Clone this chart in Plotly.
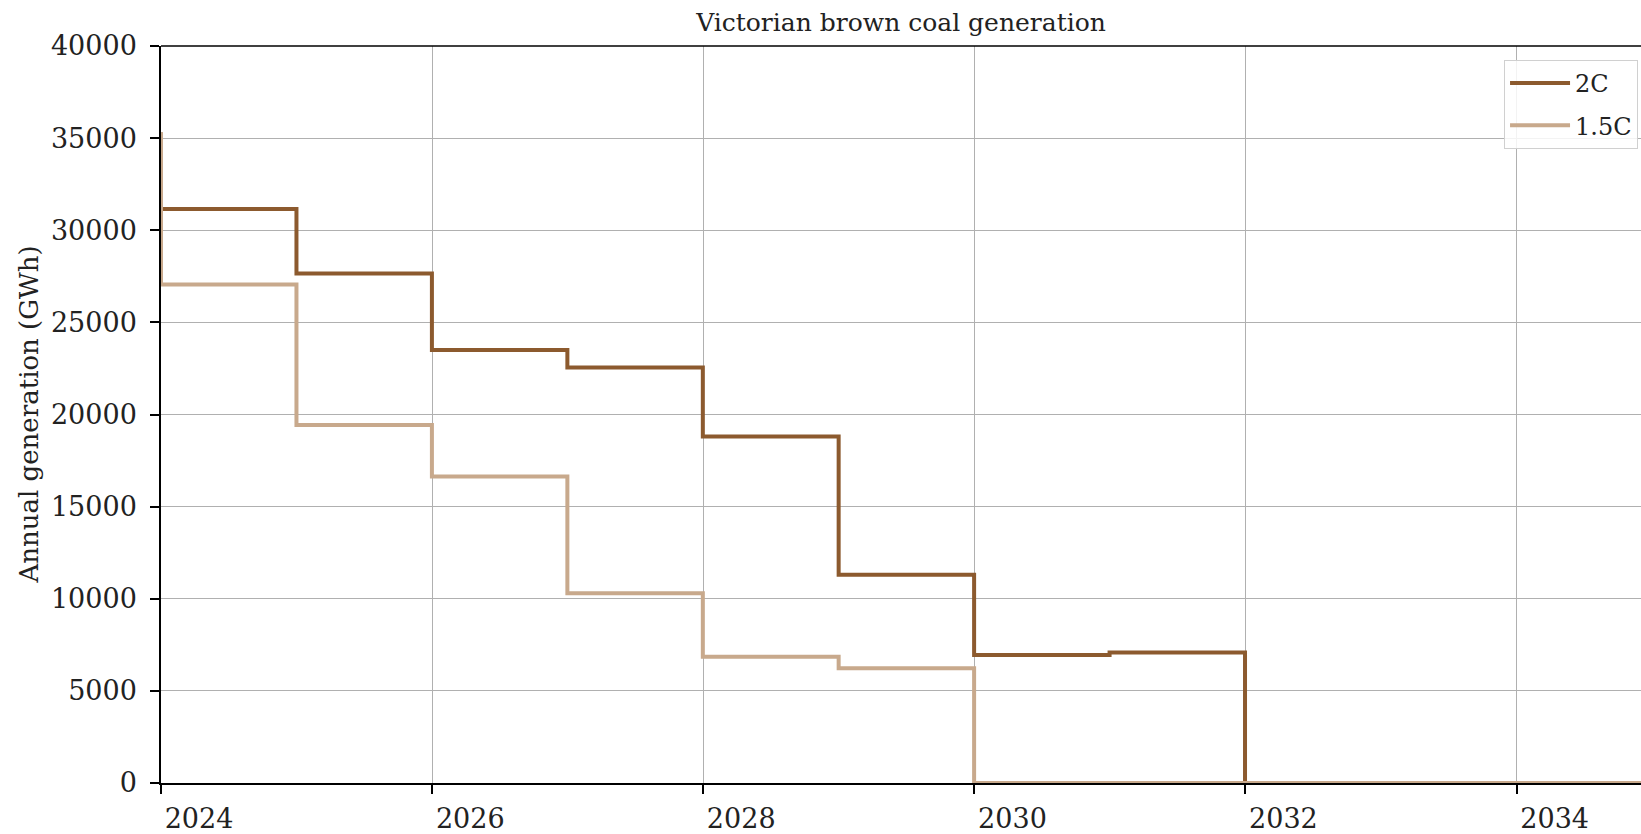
import plotly.graph_objects as go

# Step points: first point is the opening level, then year-end values
period_end = ["2024-01-01", "2024-12-31", "2025-12-31", "2026-12-31", "2027-12-31",
              "2028-12-31", "2029-12-31", "2030-12-31", "2031-12-31", "2032-12-31",
              "2033-12-31", "2034-12-31", "2035-12-31"]
gen_2c = [35300, 31150, 27650, 23500, 22550, 18800, 11300, 6950, 7080, 0, 0, 0, 0]
gen_15c = [35300, 27050, 19430, 16630, 10300, 6850, 6230, 0, 0, 0, 0, 0, 0]

series_names = ["2C", "1.5C"]
series_colors = ["#8c5a2e", "#c8a98c"]

title_text = "Victorian brown coal generation"
y_label = "Annual generation (GWh)"
x_range = ["2024-01-01", "2034-12-02"]
y_range = [0, 40000]

FONT = "DejaVu Serif"
W, H = 1641, 834
L, R, T, B = 161, 0, 46, 47

fig = go.Figure()
for name, ys, col in zip(series_names, [gen_2c, gen_15c], series_colors):
    fig.add_trace(go.Scatter(
        x=period_end, y=ys, name=name, mode="lines", legendgroup=name,
        line=dict(color=col, width=4, shape="vh"),
    ))

fig.update_layout(
    width=W, height=H,
    margin=dict(l=L, r=R, t=T, b=B),
    paper_bgcolor="white", plot_bgcolor="white",
    font=dict(family=FONT, size=24, color="#222222"),
    title=dict(text=title_text, x=0.5, xref="paper", xanchor="center",
               y=1 - 22 / H, yref="container", yanchor="middle",
               font=dict(family=FONT, size=25, color="#222222")),
    showlegend=True,
    legend=dict(x=0.998, y=0.981, xanchor="right", yanchor="top",
                bgcolor="rgba(255,255,255,0.85)", bordercolor="#d0d0d0", borderwidth=1,
                font=dict(family=FONT, size=24, color="#222222"),
                itemwidth=60, tracegroupgap=8),
)

fig.update_xaxes(
    type="date", range=x_range,
    tick0="2024-01-01", dtick="M24", tickformat="%Y",
    showgrid=True, gridcolor="#b0b0b0", gridwidth=1,
    showline=True, linecolor="black", linewidth=1.5, mirror=False,
    ticks="outside", ticklen=9, tickcolor="black", tickwidth=1.5,
    ticklabelshift=38, ticklabelstandoff=2,
    tickfont=dict(family=FONT, size=27, color="#222222"),
    zeroline=False,
)
fig.update_yaxes(
    range=y_range, dtick=5000, tickformat="d",
    showgrid=True, gridcolor="#b0b0b0", gridwidth=1,
    showline=True, linecolor="black", linewidth=1.5,
    ticks="outside", ticklen=9, tickcolor="black", tickwidth=1.5,
    ticklabelstandoff=8,
    tickfont=dict(family=FONT, size=27, color="#222222"),
    zeroline=False,
)

# top frame line
fig.add_shape(type="line", xref="paper", yref="paper", x0=0, x1=1, y0=1, y1=1,
              line=dict(color="black", width=1.5), layer="above")

fig.add_annotation(text=y_label, xref="paper", yref="paper",
                   x=(28 - L) / (W - L - R), y=0.5, xanchor="center", yanchor="middle",
                   textangle=-90, showarrow=False,
                   font=dict(family=FONT, size=26, color="#222222"))

fig.write_html("out.html", config={"displayModeBar": False},
               post_script="document.body.style.margin='0px';document.body.style.overflow='hidden';")
